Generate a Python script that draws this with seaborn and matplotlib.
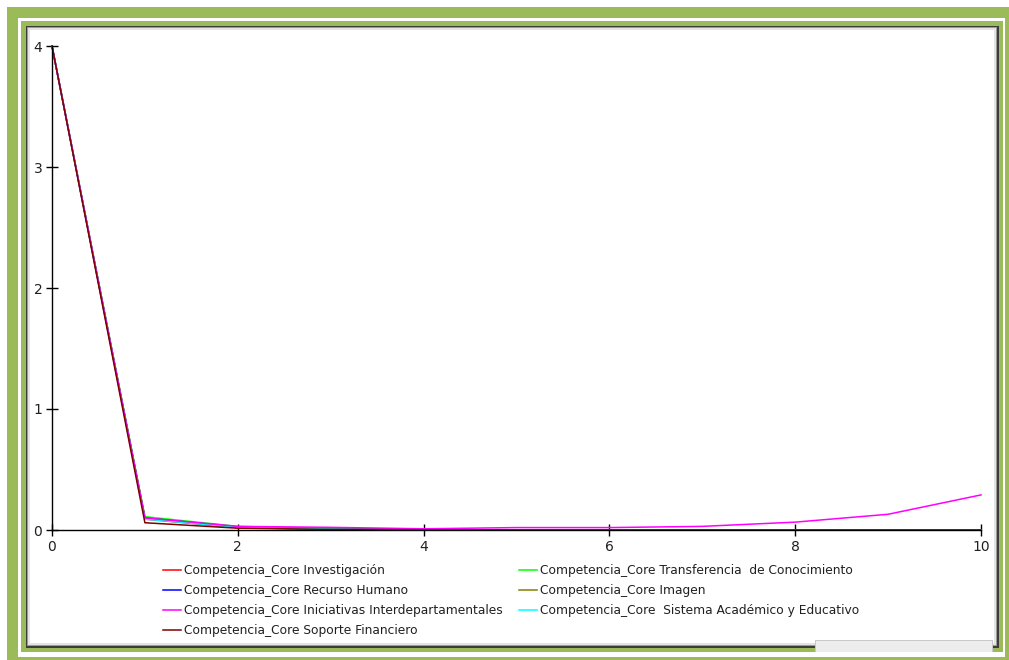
import numpy as np
import pandas as pd
import matplotlib
matplotlib.use('Agg')
import matplotlib.pyplot as plt
from matplotlib.patches import Rectangle
import seaborn as sns

# =============================================================================
# datos
# =============================================================================
tiempo = [0, 1, 2, 3, 4, 5, 6, 7, 8, 9, 10]

investigacion = [4, 0.09, 0.02, 0.005, 0, 0, 0, 0, 0, 0, 0]
transferencia = [4, 0.11, 0.03, 0.01, 0.005, 0, 0, 0, 0, 0, 0]
recurso_humano = [4, 0.10, 0.025, 0.01, 0.004, 0, 0, 0, 0, 0, 0]
imagen = [4, 0.10, 0.02, 0.008, 0.003, 0, 0, 0, 0, 0, 0]
iniciativas = [4, 0.10, 0.03, 0.022, 0.01, 0.02, 0.02, 0.03, 0.065, 0.13, 0.29]
sistema = [4, 0.09, 0.022, 0.008, 0.003, 0, 0, 0, 0, 0, 0]
soporte = [4, 0.06, 0.015, 0.005, 0.002, 0, 0, 0, 0, 0, 0]

series = {
    'Competencia_Core Investigación': investigacion,
    'Competencia_Core Recurso Humano': recurso_humano,
    'Competencia_Core Iniciativas Interdepartamentales': iniciativas,
    'Competencia_Core Soporte Financiero': soporte,
    'Competencia_Core Transferencia  de Conocimiento': transferencia,
    'Competencia_Core Imagen': imagen,
    'Competencia_Core  Sistema Académico y Educativo': sistema,
}
colores = ['#ff0000', '#0000ff', '#ff00ff', '#800000', '#00ff00', '#808000', '#00ffff']
orden_dibujo = [0, 4, 1, 5, 6, 2, 3]   # el granate queda encima

y_ticks = [0, 1, 2, 3, 4]
x_ticks = [0, 2, 4, 6, 8, 10]

nombres = list(series.keys())
df = pd.concat([pd.DataFrame({'t': tiempo, 'valor': v, 'serie': k}) for k, v in series.items()])

# =============================================================================
# figura
# =============================================================================
W, H = 1009, 660
fig = plt.figure(figsize=(W / 100, H / 100), dpi=100)
fig.patch.set_facecolor('white')


def caja(x0, y0, x1, y1, color, z=-10):
    # rectangulo en pixeles (origen arriba a la izquierda)
    fig.patches.append(Rectangle((x0 / W, 1 - y1 / H), (x1 - x0) / W, (y1 - y0) / H,
                                 transform=fig.transFigure, facecolor=color,
                                 edgecolor='none', zorder=z))


verde = '#9bbb59'
caja(7, 7, 1020, 670, verde)
caja(18, 18, 1005, 657, 'white')
caja(21, 21, 1003, 652, verde)
caja(26, 26, 999, 648, '#3c3c3c')
caja(27, 27, 997, 646, '#9a9a9a')
caja(28, 28, 996, 645, '#e4e4e4')
caja(30, 30, 994, 643, 'white')
# recuadro gris abajo a la derecha
caja(815, 640, 993, 652, '#c8c8c8')
caja(816, 641, 992, 652, '#ececec')

ax = fig.add_axes([52 / W, (H - 530) / H, (981 - 52) / W, (530 - 46) / H])
ax.set_facecolor('none')
ax.set_zorder(5)

for i in orden_dibujo:
    nombre = nombres[i]
    sns.lineplot(data=df[df['serie'] == nombre], x='t', y='valor', color=colores[i],
                 linewidth=1.1, ax=ax, label=nombre, clip_on=False)

ax.set_xlim(0, 10)
ax.set_ylim(0, 4)
ax.set_xticks(x_ticks)
ax.set_yticks(y_ticks)
ax.set_xlabel('')
ax.set_ylabel('')
for s in ['top', 'right']:
    ax.spines[s].set_visible(False)
for s in ['left', 'bottom']:
    ax.spines[s].set_linewidth(1.0)
    ax.spines[s].set_color('black')
ax.tick_params(direction='inout', length=8, width=1, labelsize=10,
               labelcolor='#202020', pad=3)
for lab in ax.get_xticklabels() + ax.get_yticklabels():
    lab.set_family('DejaVu Sans')

ax.get_legend().remove()
handles = [plt.Line2D([], [], color=colores[i], linewidth=1.1) for i in range(len(nombres))]
leg = fig.legend(handles, nombres, ncol=2, loc='upper left',
                 bbox_to_anchor=(163 / W, 1 - 564 / H), frameon=False,
                 prop={'family': 'DejaVu Sans', 'size': 8.8}, handlelength=1.5,
                 handletextpad=0.25, labelspacing=0.57, columnspacing=1.3,
                 borderpad=0, borderaxespad=0)
leg.set_zorder(6)
for t in leg.get_texts():
    t.set_color('#202020')

fig.savefig('out.png', dpi=100)
